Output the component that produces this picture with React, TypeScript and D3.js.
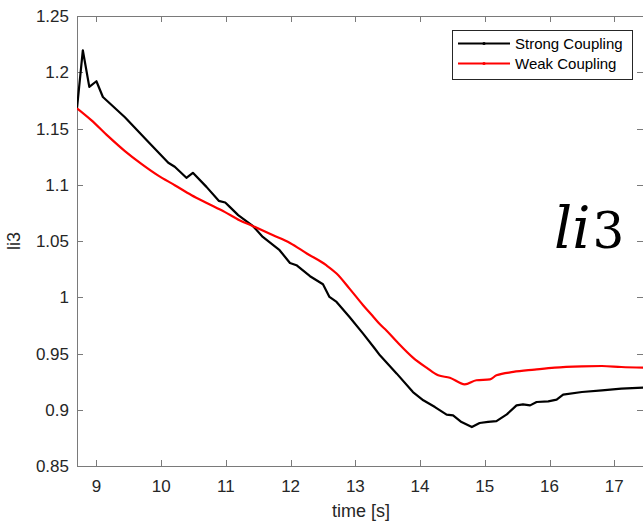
import React from "react";
import * as d3 from "d3";

const strongT = [8.7, 8.79, 8.89, 9.0, 9.1, 9.44, 9.77, 10.11, 10.21, 10.39, 10.49, 10.7, 10.89, 10.99, 11.06, 11.19, 11.42, 11.57, 11.83, 11.99, 12.09, 12.3, 12.5, 12.6, 12.71, 12.91, 13.12, 13.3, 13.38, 13.64, 13.89, 14.05, 14.23, 14.41, 14.51, 14.64, 14.8, 14.92, 15.05, 15.18, 15.34, 15.49, 15.59, 15.7, 15.8, 15.98, 16.11, 16.21, 16.5, 16.81, 17.11, 17.45];
const strongV = [1.168, 1.2195, 1.187, 1.192, 1.178, 1.16, 1.14, 1.1195, 1.116, 1.1062, 1.1106, 1.0981, 1.0857, 1.0842, 1.0803, 1.073, 1.0632, 1.0536, 1.0418, 1.0305, 1.0285, 1.0187, 1.0116, 1.0003, 0.9958, 0.9825, 0.9677, 0.9544, 0.9484, 0.9321, 0.9157, 0.9084, 0.9024, 0.8956, 0.895, 0.8891, 0.8846, 0.8882, 0.8892, 0.8899, 0.8959, 0.9039, 0.9048, 0.9039, 0.9069, 0.9075, 0.909, 0.9134, 0.9158, 0.9173, 0.9188, 0.9197];

const weakT = [8.7, 8.92, 9.18, 9.44, 9.7, 9.95, 10.21, 10.47, 10.72, 10.98, 11.21, 11.42, 11.73, 11.99, 12.25, 12.55, 12.71, 12.91, 13.12, 13.28, 13.38, 13.48, 13.65, 13.89, 14.1, 14.28, 14.46, 14.69, 14.87, 15.08, 15.18, 15.44, 15.77, 16.08, 16.5, 16.81, 17.11, 17.45];
const weakV = [1.168, 1.1575, 1.1432, 1.1299, 1.1183, 1.1083, 1.0996, 1.0907, 1.0834, 1.0759, 1.0685, 1.0632, 1.0552, 1.0483, 1.0389, 1.0285, 1.0211, 1.0077, 0.9929, 0.9825, 0.976, 0.9705, 0.96, 0.9464, 0.9374, 0.9306, 0.9285, 0.9226, 0.9262, 0.927, 0.9306, 0.9336, 0.9357, 0.9375, 0.9386, 0.9389, 0.938, 0.9375];

const xTicks = [9, 10, 11, 12, 13, 14, 15, 16, 17];
const yTicks = [0.85, 0.9, 0.95, 1.0, 1.05, 1.1, 1.15, 1.2, 1.25];
const yTickLabels = ["0.85", "0.9", "0.95", "1", "1.05", "1.1", "1.15", "1.2", "1.25"];
const seriesNames = ["Strong Coupling", "Weak Coupling"];
const seriesColors = ["#000000", "#ff0000"];

const W = 643;
const H = 522;
const left = 77;
const right = 643;
const top = 16;
const bottom = 466;

export default function App() {
  const x = d3.scaleLinear().domain([8.7, 17.444]).range([left, right]);
  const y = d3.scaleLinear().domain([0.85, 1.25]).range([bottom, top]);
  const line = d3
    .line<[number, number]>()
    .x((d) => x(d[0]))
    .y((d) => y(d[1]));
  const smooth = d3
    .line<[number, number]>()
    .x((d) => x(d[0]))
    .y((d) => y(d[1]))
    .curve(d3.curveMonotoneX);
  const strong: [number, number][] = strongT.map((t, i) => [t, strongV[i]]);
  const weak: [number, number][] = weakT.map((t, i) => [t, weakV[i]]);
  const axisColor = "#7a7a7a";
  const textColor = "#262626";
  const font = "'Liberation Sans', Arial, Helvetica, sans-serif";

  return (
    <svg
      width={W}
      height={H}
      style={{ position: "absolute", left: 0, top: 0, background: "#fff" }}
      fontFamily={font}
    >
      <rect x={0} y={0} width={W} height={H} fill="#fff" />
      <defs>
        <clipPath id="plotclip">
          <rect x={left} y={top - 2} width={right - left + 2} height={bottom - top + 4} />
        </clipPath>
      </defs>
      {/* axes frame */}
      <line x1={left + 0.5} x2={left + 0.5} y1={top} y2={bottom + 0.5} stroke={axisColor} />
      <line x1={left} x2={W} y1={bottom + 0.5} y2={bottom + 0.5} stroke={axisColor} />
      <line x1={left} x2={W} y1={top + 0.5} y2={top + 0.5} stroke={axisColor} />
      {/* x ticks */}
      {xTicks.map((t) => (
        <g key={"x" + t}>
          <line x1={Math.round(x(t)) + 0.5} x2={Math.round(x(t)) + 0.5} y1={bottom} y2={bottom - 6} stroke={axisColor} />
          <line x1={Math.round(x(t)) + 0.5} x2={Math.round(x(t)) + 0.5} y1={top} y2={top + 6} stroke={axisColor} />
          <text x={x(t)} y={492} textAnchor="middle" fontSize={17} fill={textColor}>
            {t}
          </text>
        </g>
      ))}
      {/* y ticks */}
      {yTicks.map((v, i) => (
        <g key={"y" + v}>
          <line x1={left} x2={left + 6} y1={Math.round(y(v)) + 0.5} y2={Math.round(y(v)) + 0.5} stroke={axisColor} />
          <line x1={right} x2={right - 6} y1={Math.round(y(v)) + 0.5} y2={Math.round(y(v)) + 0.5} stroke={axisColor} />
          <text x={69} y={y(v) + 6} textAnchor="end" fontSize={17} fill={textColor}>
            {yTickLabels[i]}
          </text>
        </g>
      ))}
      {/* axis labels */}
      <text x={361} y={517} textAnchor="middle" fontSize={18} fill={textColor}>
        time [s]
      </text>
      <text
        transform={`translate(20, ${(top + bottom) / 2}) rotate(-90)`}
        textAnchor="middle"
        fontSize={18}
        fill={textColor}
      >
        li3
      </text>
      {/* series */}
      <g clipPath="url(#plotclip)">
        <path d={line(strong) || ""} fill="none" stroke={seriesColors[0]} strokeWidth={2.2} strokeLinejoin="round" />
        <path d={smooth(weak) || ""} fill="none" stroke={seriesColors[1]} strokeWidth={2.2} strokeLinejoin="round" />
      </g>
      {/* big annotation */}
      <text x={554} y={248} fontFamily="'DejaVu Serif', serif" fill="#000">
        <tspan fontStyle="italic" fontSize={57}>li</tspan>
        <tspan fontSize={50} dx={2}>3</tspan>
      </text>
      {/* legend */}
      <rect x={452.5} y={30.5} width={180} height={49} fill="#fff" stroke="#262626" strokeWidth={1} />
      {seriesNames.map((name, i) => (
        <g key={name}>
          <line x1={458} x2={510} y1={43.5 + i * 20} y2={43.5 + i * 20} stroke={seriesColors[i]} strokeWidth={2.2} />
          <circle cx={484} cy={43.5 + i * 20} r={1.6} fill={seriesColors[i]} />
          <text x={515} y={48.5 + i * 20} fontSize={15} fill="#000">
            {name}
          </text>
        </g>
      ))}
    </svg>
  );
}
